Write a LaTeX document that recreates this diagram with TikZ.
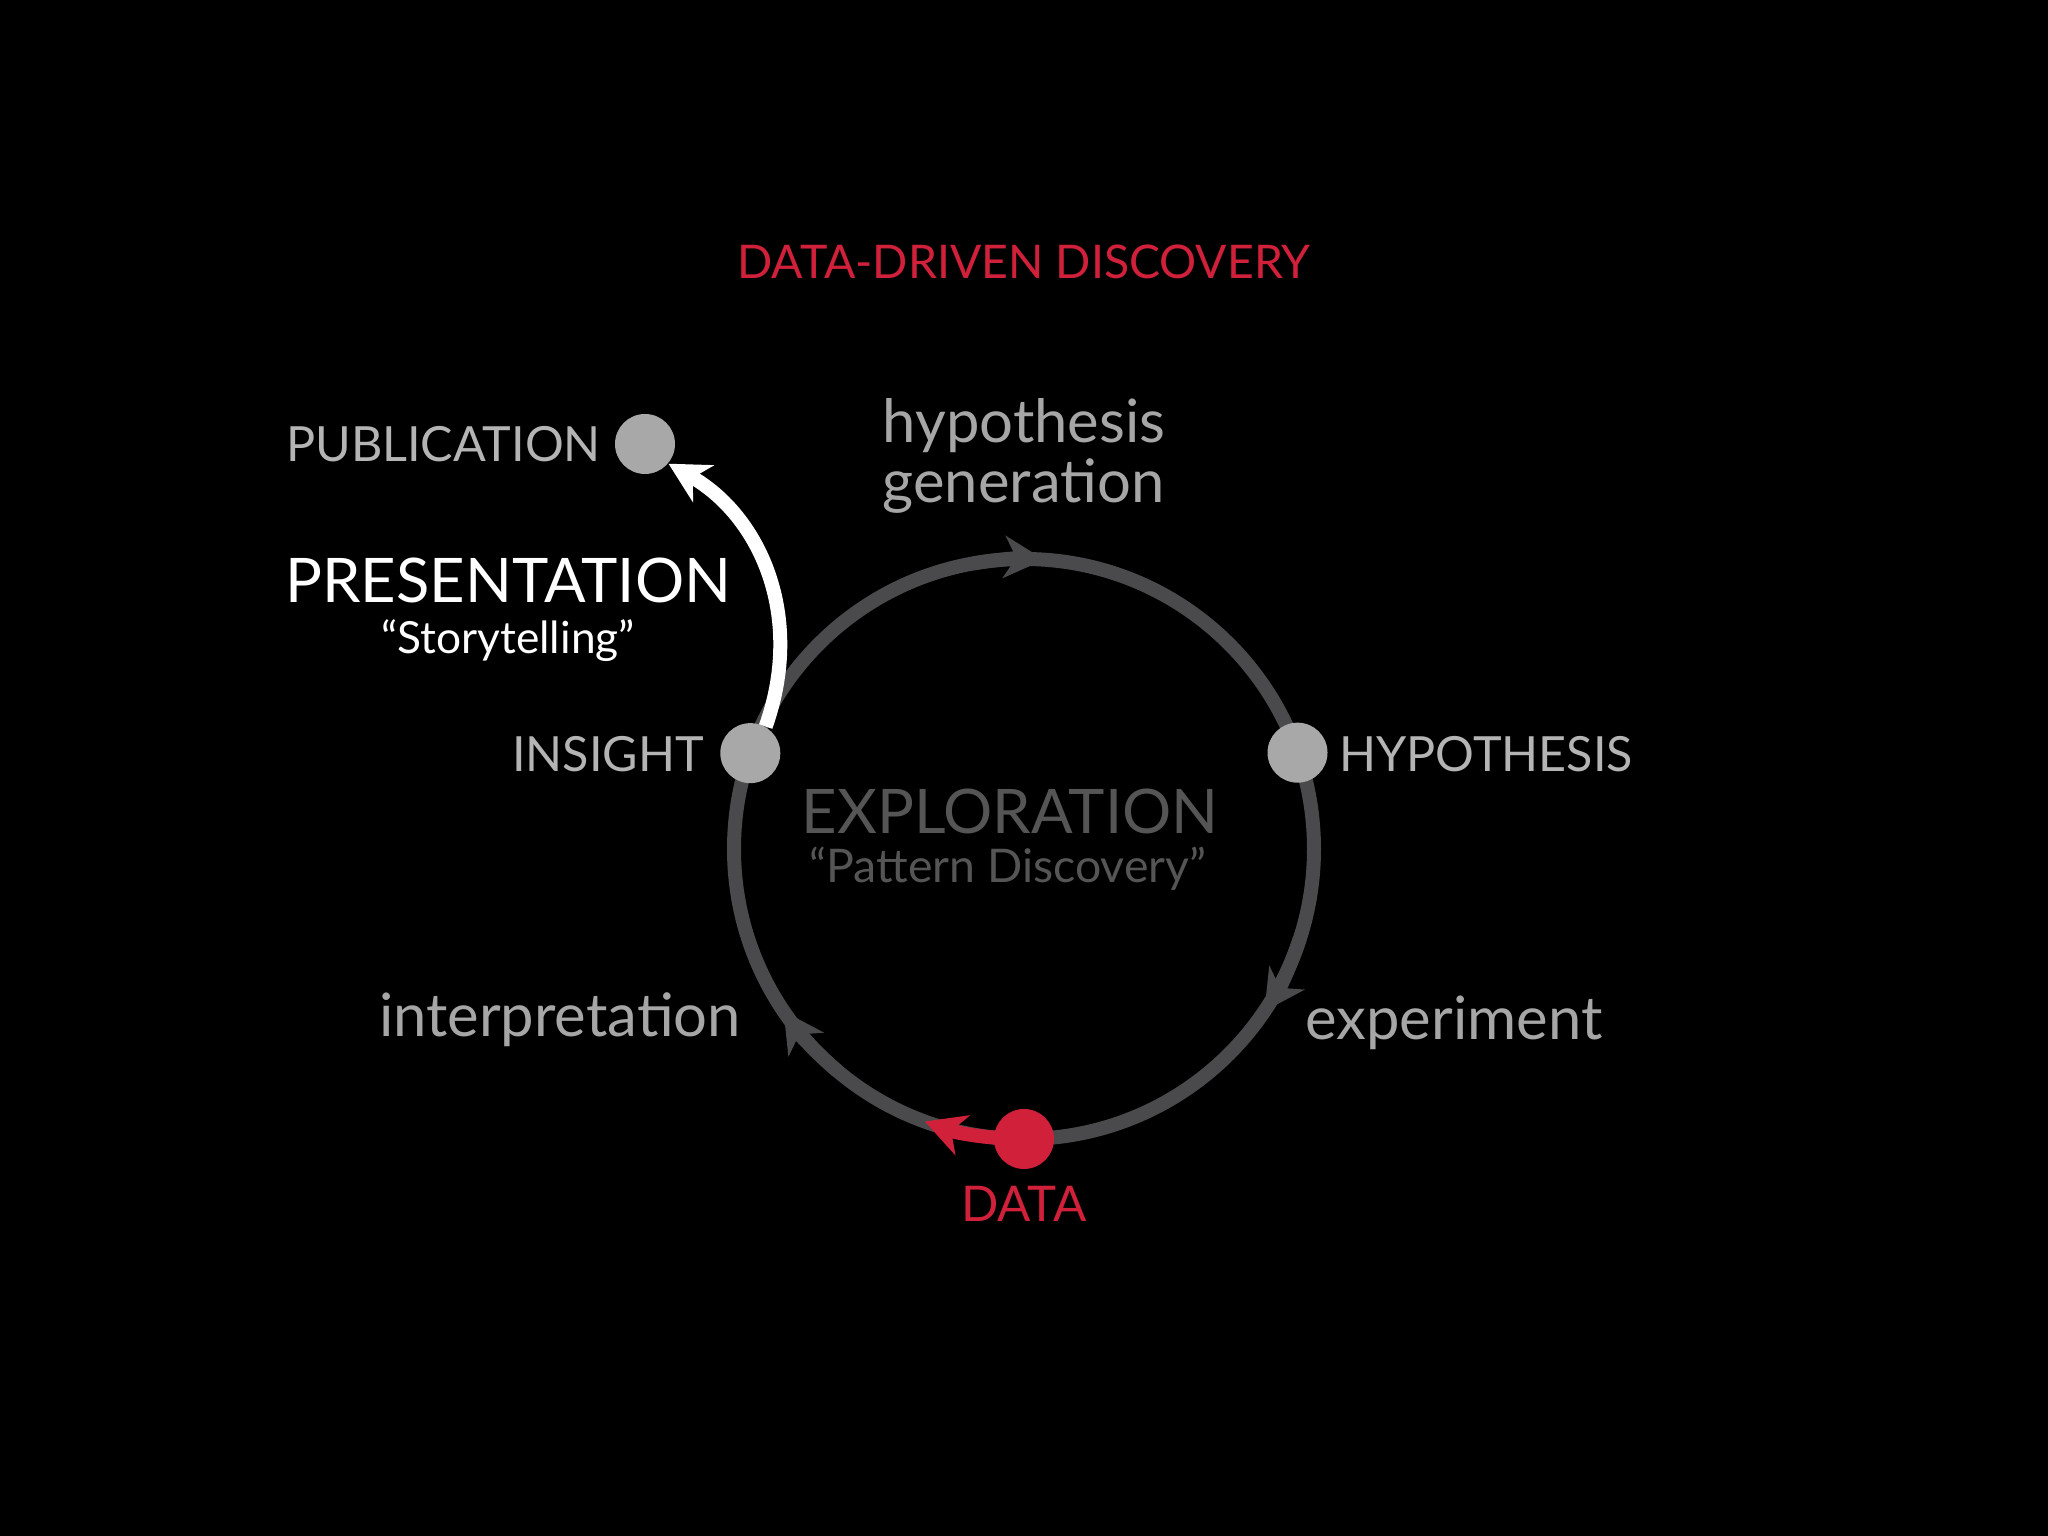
\documentclass[tikz,border=0pt]{standalone}
\usepackage{fontspec}
\setmainfont{Lato}
\usetikzlibrary{arrows.meta,calc}
\definecolor{rd}{HTML}{D0203A}
\definecolor{ring}{HTML}{4A4A4C}
\definecolor{dot}{HTML}{A8A8A8}
\definecolor{txt}{HTML}{B4B4B4}
\definecolor{ltxt}{HTML}{A6A6A6}
\definecolor{exp}{HTML}{555555}
\tikzset{
  dotnode/.style={circle,fill=dot,minimum size=0.6cm,inner sep=0pt},
  lbl/.style={text=txt,font=\fontsize{13.8}{16}\selectfont,inner sep=1pt},
  lite/.style={text=ltxt,font=\fontsize{17}{19}\selectfont,inner sep=1pt},
  tip/.style={-{Stealth[length=0.36cm,width=0.36cm]}},
  rtip/.style={-{Stealth[length=0.4cm,width=0.42cm,inset=0.12cm]}},
}
\begin{document}
\begin{tikzpicture}
\fill[black] (0,0) rectangle (20.48,15.36);
\useasboundingbox (0,0) rectangle (20.48,15.36);
\def\R{2.9}
\coordinate (c) at (10.24,6.87);
\draw[ring,line width=1.4mm] (c) circle (\R);
% arrows on ring
\draw[ring,line width=1.4mm,rtip] ($(c)+(100:\R)$) arc (100:86:\R);
\draw[ring,line width=1.4mm,rtip] ($(c)+(-18:\R)$) arc (-18:-34:\R);
\draw[ring,line width=1.4mm,rtip] ($(c)+(-130:\R)$) arc (-130:-146:\R);
% red arc
\draw[rd,line width=1.4mm,rtip] ($(c)+(-90:\R)$) arc (-90:-110:\R);
% nodes
\node[dotnode] (ins) at ($(c)+(160.7:\R)$) {};
\node[dotnode] (hyp) at ($(c)+(19.4:\R)$) {};
\node[dotnode,fill=rd] (dat) at ($(c)+(-90:\R)$) {};
\node[dotnode] (pub) at (6.45,10.92) {};
\draw[white,line width=1.4mm,rtip] (ins.60) .. controls (8.05,9.2) and (7.6,10.2) .. (pub.-40);
% texts
\node[text=rd,font=\fontsize{13.2}{16}\selectfont] (title) at (10.24,12.74) {DATA-DRIVEN DISCOVERY};
\node[lite,align=left] (hg) at (10.24,10.8) {hypothesis\\[-2pt]generation};
\node[lbl,anchor=west] (hl) at (13.35,7.82) {HYPOTHESIS};
\node[lbl,anchor=east] (il) at (7.08,7.82) {INSIGHT};
\node[lbl,anchor=east] (pl) at (6.05,10.92) {PUBLICATION};
\node[text=white,font=\fontsize{17.5}{20}\selectfont] (pres) at (5.08,9.56) {PRESENTATION};
\node[text=white,font=\fontsize{12.6}{15}\selectfont] (story) at (5.08,8.95) {“Storytelling”};
\node[text=exp,font=\fontsize{17.5}{20}\selectfont] (expl) at (10.10,7.25) {EXPLORATION};
\node[text=exp,font=\fontsize{13.2}{15}\selectfont] (pat) at (10.08,6.67) {“Pattern Discovery”};
\node[lite] (interp) at (5.60,5.16) {interpretation};
\node[lite] (expt) at (14.54,5.13) {experiment};
\node[text=rd,font=\fontsize{14}{17}\selectfont] (dl) at (10.24,3.32) {DATA};
\end{tikzpicture}
\end{document}
